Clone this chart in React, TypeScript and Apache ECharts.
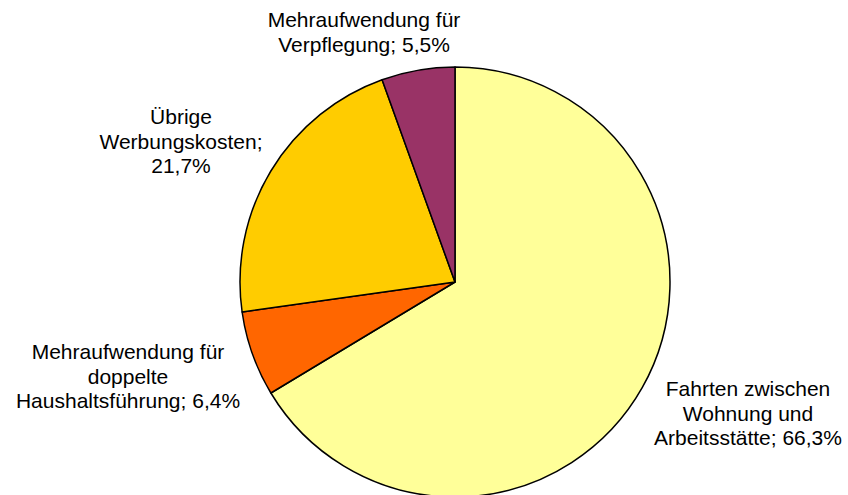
import React, { useEffect, useRef } from "react";
import * as echarts from "echarts";

const categories = [
  "Fahrten zwischen\nWohnung und\nArbeitsstätte",
  "Mehraufwendung für\ndoppelte\nHaushaltsführung",
  "Übrige\nWerbungskosten",
  "Mehraufwendung für\nVerpflegung",
];
const values = [66.3, 6.4, 21.7, 5.5];
const valueLabels = ["66,3%", "6,4%", "21,7%", "5,5%"];
const colors = ["#FFFF99", "#FF6600", "#FFCC00", "#993366"];
// label centres (px)
const labelPos: [number, number][] = [
  [748, 413],
  [128, 376],
  [181, 141],
  [364, 32],
];
const labelSep = ["; ", "; ", ";\n", "; "];

export default function App() {
  const ref = useRef<HTMLDivElement>(null);
  useEffect(() => {
    if (!ref.current) return;
    const chart = echarts.init(ref.current, undefined, { renderer: "svg" });
    chart.setOption({
      animation: false,
      backgroundColor: "#ffffff",
      series: [
        {
          type: "pie",
          center: [455, 282],
          radius: 215,
          startAngle: 90,
          clockwise: true,
          data: categories.map((c, i) => ({
            name: c,
            value: values[i],
            itemStyle: { color: colors[i] },
          })),
          itemStyle: { borderColor: "#000000", borderWidth: 1.5 },
          label: {
            show: true,
            position: "outside",
            formatter: (p: any) => categories[p.dataIndex] + labelSep[p.dataIndex] + valueLabels[p.dataIndex],
            fontFamily: "Liberation Sans, Arial, sans-serif",
            fontSize: 21,
            lineHeight: 24.5,
            color: "#000000",
            align: "center",
            overflow: "none",
            width: 400,
          },
          labelLine: { show: false },
          labelLayout: (p: any) => ({
            x: labelPos[p.dataIndex][0],
            y: labelPos[p.dataIndex][1],
            align: "center",
            verticalAlign: "middle",
          }),
          emphasis: { disabled: true },
        },
      ],
    });
    return () => chart.dispose();
  }, []);
  return (
    <div
      ref={ref}
      style={{ position: "fixed", left: 0, top: 0, width: 848, height: 495 }}
    />
  );
}
